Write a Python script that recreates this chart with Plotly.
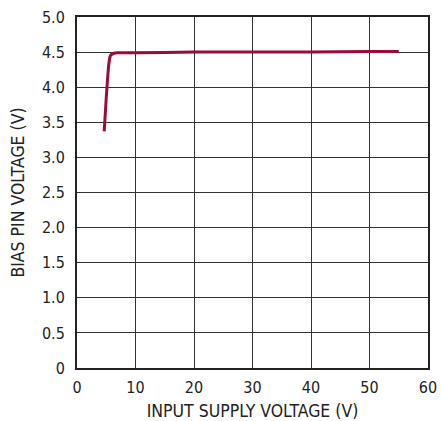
import plotly.graph_objects as go

vin = [4.65, 5.0, 5.4, 5.7, 6.2, 7.0, 10, 20, 30, 40, 50, 55]
vbias = [3.37, 3.85, 4.3, 4.45, 4.48, 4.49, 4.49, 4.50, 4.50, 4.50, 4.51, 4.51]

x_ticks = [0, 10, 20, 30, 40, 50, 60]
y_ticks = [0, 0.5, 1.0, 1.5, 2.0, 2.5, 3.0, 3.5, 4.0, 4.5, 5.0]
y_labels = ["0", "0.5", "1.0", "1.5", "2.0", "2.5", "3.0", "3.5", "4.0", "4.5", "5.0"]

font_family = "DejaVu Sans Condensed, Roboto, sans-serif"

fig = go.Figure()
fig.add_trace(go.Scatter(x=vin, y=vbias, mode="lines",
                         line=dict(color="#9b0a3a", width=3, shape="spline", smoothing=0.3),
                         showlegend=False))

fig.update_layout(
    width=441, height=421,
    margin=dict(l=77, r=13, t=17, b=53),
    plot_bgcolor="white", paper_bgcolor="white",
    font=dict(family=font_family, size=16, color="#222"),
    xaxis=dict(range=[0, 60], tickvals=x_ticks, ticktext=[str(v) for v in x_ticks],
               showgrid=True, gridcolor="#333", gridwidth=1,
               showline=True, linecolor="#222", linewidth=2, mirror=True,
               zeroline=False, ticks="outside", ticklen=4, tickcolor="rgba(0,0,0,0)",
               automargin=False,
               title=dict(text="INPUT SUPPLY VOLTAGE (V)", font=dict(size=17.5), standoff=9)),
    yaxis=dict(range=[0, 5.0], tickvals=y_ticks, ticktext=y_labels,
               showgrid=True, gridcolor="#333", gridwidth=1,
               showline=True, linecolor="#222", linewidth=2, mirror=True,
               zeroline=False, ticks="outside", ticklen=7, tickcolor="rgba(0,0,0,0)",
               automargin=False,
               title=dict(text="BIAS PIN VOLTAGE (V)", font=dict(size=17.5), standoff=13)),
)

fig.write_html("out.html", config={"displayModeBar": False},
               post_script="document.body.style.margin='0';document.body.style.overflow='hidden';")
